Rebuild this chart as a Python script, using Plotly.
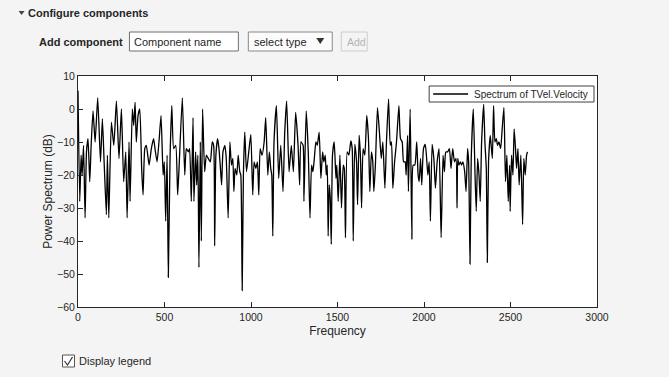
import plotly.graph_objects as go

# ---- data (frequency in Hz, power in dB) ----
freq = [0, 10, 18, 24, 32, 41, 49, 58, 68, 76, 87, 99, 114, 130, 141, 151, 164, 170, 178, 193,
        207, 222, 237, 251, 264, 276, 284, 295, 301, 314, 322, 330, 337, 347, 357, 368, 376, 386, 395, 411,
        424, 437, 445, 457, 468, 480, 492, 499, 507, 515, 522, 532, 542, 553, 565, 576, 584, 603, 617, 626,
        638, 645, 655, 665, 670, 680, 686, 693, 699, 707, 713, 720, 732, 742, 753, 765, 776, 784, 790, 797,
        807, 815, 822, 830, 838, 849, 857, 868, 878, 887, 895, 901, 908, 918, 926, 935, 941, 949, 956, 964,
        974, 987, 999, 1010, 1018, 1028, 1037, 1045, 1053, 1064, 1076, 1085, 1097, 1106, 1114, 1120, 1126, 1133, 1147, 1160,
        1172, 1185, 1195, 1206, 1220, 1233, 1245, 1258, 1272, 1281, 1289, 1301, 1306, 1319, 1331, 1341, 1350, 1358, 1366, 1375,
        1383, 1394, 1404, 1414, 1421, 1429, 1435, 1441, 1446, 1452, 1458, 1464, 1471, 1481, 1491, 1496, 1504, 1514, 1523, 1533,
        1539, 1546, 1556, 1566, 1577, 1585, 1591, 1600, 1610, 1616, 1625, 1633, 1639, 1648, 1658, 1669, 1679, 1687, 1696, 1704,
        1710, 1719, 1731, 1741, 1753, 1762, 1774, 1783, 1795, 1805, 1812, 1820, 1830, 1841, 1855, 1864, 1874, 1882, 1891, 1897,
        1905, 1910, 1920, 1930, 1937, 1947, 1958, 1966, 1972, 1980, 1987, 1997, 2007, 2014, 2022, 2030, 2037, 2047, 2057, 2066,
        2076, 2087, 2099, 2110, 2118, 2126, 2137, 2147, 2156, 2166, 2176, 2185, 2191, 2195, 2202, 2210, 2218, 2225, 2235, 2243,
        2252, 2258, 2266, 2273, 2285, 2295, 2302, 2310, 2318, 2325, 2333, 2345, 2352, 2360, 2366, 2373, 2383, 2395, 2402, 2410,
        2418, 2425, 2433, 2443, 2452, 2462, 2471, 2479, 2487, 2495, 2498, 2506, 2514, 2521, 2529, 2535, 2543, 2550, 2560, 2570,
        2577, 2585, 2593, 2598]
power_db = [5.5, -28, -14, -20, -11, -33, -13, -9, -22, -11, -0.6, -10, 3.4, -16, -3, -16, -32, -14, -33, -4,
            -11, 2.4, -15, 0, -22, -13, -33, -10, -28, 0, -5, 2, -10, -2, 0, -18, -26, -12, -11, -17,
            -12, -9, -12, -16, -10, -2, -20, -16, -34, -14, -51, -15, 1, -12, -11, -26, -18, 3.4, -20, -12,
            -13, -12, -28, -2.6, -28, -13, -23, -14, -48, -10, -40, 0, -19, -14, -15, -16, -10, -11, -41.5, -14,
            -9, -12, -17, -23, -13, -11, -15, -33, -10, -17, -15, -25, -18, -20, -14, -19, -20, -55, -20, -7,
            -19, -13, -7.7, -26, -16, -18, -16, -26, -12, -14, -10, -2.6, -20, -13, -18, -20, -38.5, -10, 1, -21,
            -11, -25, -7, 2.4, -19, -11, -19, -1, -11, -23, -10, -11, -28, -0.6, -13, -33, -17, -19, -15, -10,
            -11, -7, -21, -13, -16, -14, -20, -17, -38.5, -23, -27, -41, -14, -10, -21, -17, -28, -14, -30, -17,
            -18, -39, -13, -14, -9.7, -12, -40, -10.7, -16, -29, -8, -15, -30, -12, -14, -2, -9, -25, -13, -16,
            -25, -17, 0.4, -6, -15, -10, -24, -10, 3, -11, -10, -24, -16, -10, 1, -9, -10, -16, -16, -20,
            -8, -25, 0, -39.5, -17, -17, -10, -20, -22, -15, -23, -12, -10.7, -14, -20, -16, -34, -10.7, -15, -24,
            -16, -12, -39, -14, -19, -13, -13, -12, -18, -12, -16, -15, -30, -15, -17, -16, -17, -16, -19, -25,
            -12, -16, -47, -15, 0, -20, -31, -15, -20, -28, -10, 1.4, -10, -18, -46.5, -16, -8, -15, 1, -10,
            -9, -11, -10, -12, -6, 0.4, -22, -14, -28, -17, -31, -14, -20, -6, -12, -18, -12, -23, -14, -35,
            -15, -20, -14, -13]

x_ticks = [0, 500, 1000, 1500, 2000, 2500, 3000]
y_ticks = [-60, -50, -40, -30, -20, -10, 0, 10]
series_name = "Spectrum of TVel.Velocity"

W, H = 669, 377
L, R, T, B = 77.5, 597, 76, 307


def px(x):
    return (x - L) / (R - L)


def py(y):
    return (B - y) / (B - T)


FONT = "Liberation Sans, Arial, Helvetica, sans-serif"
TXT = "#262626"

fig = go.Figure()
fig.add_trace(go.Scatter(x=freq, y=power_db, mode="lines", name=series_name,
                         line=dict(color="#000000", width=1.3, shape="spline", smoothing=0.5),
                         showlegend=False))

axis_common = dict(showgrid=False, zeroline=False, showline=True, linecolor=TXT, linewidth=1,
                   ticks="inside", ticklen=5, tickcolor=TXT, tickwidth=1,
                   tickfont=dict(family=FONT, size=10.5, color=TXT))

fig.update_xaxes(range=[0, 3000], tickvals=x_ticks, mirror="ticks",
                 title=dict(text="Frequency", font=dict(family=FONT, size=12, color=TXT), standoff=5),
                 **axis_common)
fig.update_yaxes(range=[-60, 10], tickvals=y_ticks, mirror=True,
                 title=dict(text="Power Spectrum (dB)", font=dict(family=FONT, size=12, color=TXT), standoff=1),
                 **axis_common)

shapes = []
annotations = []


def rect(x0, y0, x1, y1, line, fill, width=1):
    shapes.append(dict(type="rect", xref="paper", yref="paper",
                       x0=px(x0), x1=px(x1), y0=py(y1), y1=py(y0),
                       line=dict(color=line, width=width), fillcolor=fill, layer="above"))


def path(pts, fill=None, line=None, width=1):
    d = "M " + " L ".join(f"{px(a):.5f},{py(b):.5f}" for a, b in pts)
    if fill:
        d += " Z"
    shapes.append(dict(type="path", xref="paper", yref="paper", path=d,
                       fillcolor=fill if fill else "rgba(0,0,0,0)",
                       line=dict(color=line if line else "rgba(0,0,0,0)", width=width), layer="above"))


def text(x, y, s, size=11, color=TXT, bold=False, anchor="left"):
    annotations.append(dict(x=px(x), y=py(y), xref="paper", yref="paper", text=f"<b>{s}</b>" if bold else s,
                            showarrow=False, xanchor=anchor, yanchor="middle",
                            font=dict(family=FONT, size=size, color=color)))


# header
path([(18, 11), (24, 11), (21, 15)], fill="#444444")
text(25, 13, "Configure components", size=11, bold=True)
text(36, 42, "Add component", size=11, bold=True)
rect(129, 32, 238, 51, "#6f6f6f", "#ffffff")
text(132, 42, "Component name", size=11)
rect(248, 32, 332, 51, "#8a8a8a", "#fbfbfb")
text(252, 42, "select type", size=11)
path([(316, 38), (324, 38), (320, 44)], fill="#333333")
rect(341, 32, 367, 51, "#cccccc", "#f4f4f4")
text(345, 42, "Add", size=10.5, color="#b3b3b3")

# checkbox
rect(62, 355, 74, 367, "#555555", "#ffffff")
path([(64, 361), (67, 365), (72, 357)], line="#333333", width=1.2)
text(76, 361, "Display legend", size=11)

# legend box (frame, sample line, label)
rect(429, 86, 594, 102, "#404040", "#ffffff")
path([(433, 94), (468, 94)], line="#000000", width=1.3)
text(590, 94, series_name, size=10, anchor="right")

fig.update_layout(
    width=W, height=H,
    margin=dict(l=L, r=W - R, t=T, b=H - B, pad=0),
    paper_bgcolor="#f4f4f4", plot_bgcolor="#ffffff",
    showlegend=False,
    shapes=shapes, annotations=annotations,
    font=dict(family=FONT, color=TXT),
)

fig.write_html("out.html", config={"displayModeBar": False},
               post_script="document.body.style.margin='0';document.body.style.background='#f4f4f4';")
